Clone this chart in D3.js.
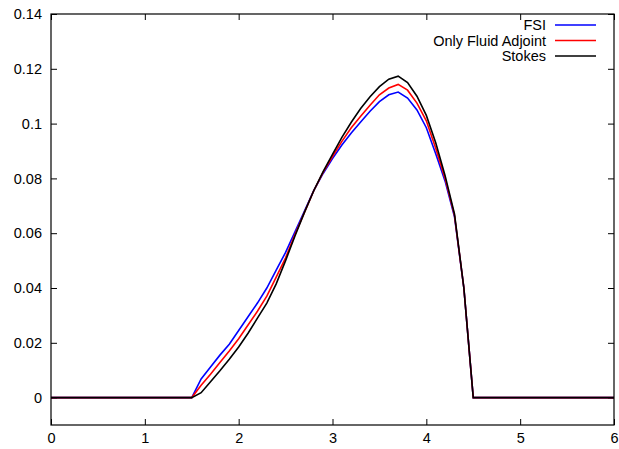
<!DOCTYPE html>
<html>
<head>
<meta charset="utf-8">
<script src="https://cdn.jsdelivr.net/npm/d3@7"></script>
<style>
  html, body { margin: 0; padding: 0; background: #fff; }
  svg { display: block; }
  text { font-family: "Liberation Sans", Arial, Helvetica, sans-serif; font-size: 14.5px; fill: #000; }
</style>
</head>
<body>
<script>
// ---- data ----
const xValues = [0, 1.5, 1.6, 1.7, 1.8, 1.9, 2.0, 2.1, 2.2, 2.3, 2.4, 2.5, 2.6, 2.7, 2.8, 2.9,
  3.0, 3.1, 3.2, 3.3, 3.4, 3.5, 3.6, 3.7, 3.8, 3.9, 4.0, 4.1, 4.2, 4.3, 4.4, 4.5, 6];
const fsi = [0, 0, 0.0068, 0.0112, 0.0155, 0.0195, 0.0245, 0.0295, 0.0345, 0.0400, 0.0465, 0.0530,
  0.0605, 0.0680, 0.0755, 0.0818, 0.0872, 0.0922, 0.0966, 0.1006, 0.1045, 0.1080, 0.1105, 0.1115,
  0.1093, 0.1050, 0.0985, 0.0890, 0.0790, 0.0660, 0.0400, 0, 0];
const fluidAdjoint = [0, 0, 0.0045, 0.0085, 0.0128, 0.0170, 0.0215, 0.0265, 0.0315, 0.0370, 0.0440, 0.0510,
  0.0595, 0.0675, 0.0755, 0.0822, 0.0880, 0.0935, 0.0985, 0.1027, 0.1067, 0.1105, 0.1130, 0.1143,
  0.1122, 0.1075, 0.1010, 0.0910, 0.0800, 0.0665, 0.0400, 0, 0];
const stokes = [0, 0, 0.0018, 0.0058, 0.0098, 0.0140, 0.0185, 0.0235, 0.0290, 0.0345, 0.0415, 0.0500,
  0.0590, 0.0675, 0.0755, 0.0825, 0.0888, 0.0950, 0.1005, 0.1055, 0.1098, 0.1135, 0.1162, 0.1173,
  0.1150, 0.1100, 0.1030, 0.0930, 0.0810, 0.0670, 0.0400, 0, 0];
const seriesNames = ["FSI", "Only Fluid Adjoint", "Stokes"];
const seriesColors = ["#0000ff", "#ff0000", "#000000"];
const xTicks = [0, 1, 2, 3, 4, 5, 6];
const yTicks = [0, 0.02, 0.04, 0.06, 0.08, 0.1, 0.12, 0.14];

// ---- layout ----
const W = 619, H = 449;
const L = 51, R = 614, T = 14, B = 425;

const svg = d3.select("body").append("svg").attr("width", W).attr("height", H);

const x = d3.scaleLinear().domain([0, 6]).range([L, R]);
const y = d3.scaleLinear().domain([-0.01, 0.14]).range([B, T]);

const tickLen = 6;
const fmtY = d => (d === 0 ? "0" : String(+d.toFixed(2)));

// axes (ticks pointing inward, mirrored)
svg.append("g").attr("transform", `translate(0,${B})`)
  .call(d3.axisBottom(x).tickValues(xTicks).tickSizeInner(-tickLen).tickSizeOuter(0).tickPadding(8).tickFormat(d3.format("d")))
  .call(g => g.select(".domain").remove());
svg.append("g").attr("transform", `translate(0,${T})`)
  .call(d3.axisTop(x).tickValues(xTicks).tickSizeInner(-tickLen).tickSizeOuter(0).tickFormat(""))
  .call(g => g.select(".domain").remove());
svg.append("g").attr("transform", `translate(${L},0)`)
  .call(d3.axisLeft(y).tickValues(yTicks).tickSizeInner(-tickLen).tickSizeOuter(0).tickPadding(9).tickFormat(fmtY))
  .call(g => g.select(".domain").remove());
svg.append("g").attr("transform", `translate(${R},0)`)
  .call(d3.axisRight(y).tickValues(yTicks).tickSizeInner(-tickLen).tickSizeOuter(0).tickFormat(""))
  .call(g => g.select(".domain").remove());

svg.selectAll(".tick line").attr("stroke", "#000").attr("stroke-width", 1);
svg.selectAll(".tick text").attr("font-size", 14.5).attr("font-family", "Liberation Sans, Arial, sans-serif");

// series
const allSeries = [fsi, fluidAdjoint, stokes];
const line = d3.line().x((d, i) => x(xValues[i])).y(d => y(d));
svg.append("clipPath").attr("id", "clip").append("rect")
  .attr("x", L).attr("y", T).attr("width", R - L).attr("height", B - T);
allSeries.forEach((s, k) => {
  svg.append("path").datum(s)
    .attr("d", line)
    .attr("fill", "none")
    .attr("stroke", seriesColors[k])
    .attr("stroke-width", 1.6)
    .attr("stroke-linejoin", "miter")
    .attr("clip-path", "url(#clip)");
});

// frame
svg.append("rect").attr("x", L).attr("y", T).attr("width", R - L).attr("height", B - T)
  .attr("fill", "none").attr("stroke", "#000").attr("stroke-width", 1.2);

// legend
const legY0 = 25, legDy = 15.5, legTextX = 546, legL1 = 555, legL2 = 596;
seriesNames.forEach((name, k) => {
  const yy = legY0 + k * legDy;
  svg.append("text").attr("x", legTextX).attr("y", yy).attr("dy", "0.35em")
    .attr("text-anchor", "end").text(name);
  svg.append("line").attr("x1", legL1).attr("x2", legL2).attr("y1", yy).attr("y2", yy)
    .attr("stroke", seriesColors[k]).attr("stroke-width", 1.6);
});
</script>
</body>
</html>
